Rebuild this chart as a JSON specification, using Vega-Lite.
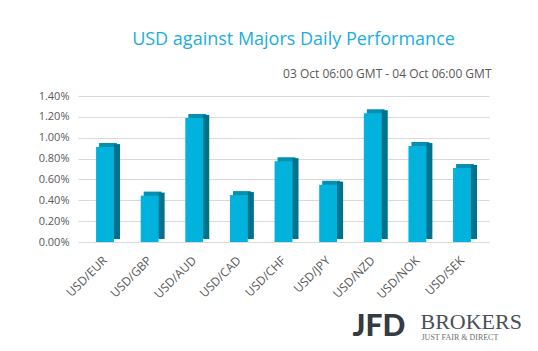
{
  "$schema": "https://vega.github.io/schema/vega-lite/v6.json",
  "width": 411,
  "height": 146,
  "autosize": {"type": "none"},
  "padding": {"left": 78, "top": 96, "right": 49, "bottom": 109},
  "background": "white",
  "title": {
    "text": "USD against Majors Daily Performance",
    "anchor": "middle",
    "dx": 10,
    "offset": 18,
    "fontSize": 18,
    "font": "Open Sans",
    "fontWeight": "normal",
    "color": "#1aaedb"
  },
  "config": {
    "view": {"stroke": null},
    "font": "Open Sans"
  },
  "data": {
    "values": [
      {"pair": "USD/EUR", "change": 0.0091},
      {"pair": "USD/GBP", "change": 0.00445},
      {"pair": "USD/AUD", "change": 0.0119},
      {"pair": "USD/CAD", "change": 0.0045},
      {"pair": "USD/CHF", "change": 0.00775},
      {"pair": "USD/JPY", "change": 0.0055},
      {"pair": "USD/NZD", "change": 0.01235},
      {"pair": "USD/NOK", "change": 0.0092},
      {"pair": "USD/SEK", "change": 0.0071}
    ]
  },
  "layer": [
    {
      "mark": {"type": "bar", "color": "#0690b0", "xOffset": 3, "yOffset": -4},
      "encoding": {
        "x": {"field": "pair", "type": "nominal", "sort": null, "scale": {"paddingInner": 0.6, "paddingOuter": 0.405}, "axis": null},
        "y": {"field": "change", "type": "quantitative", "scale": {"domain": [0, 0.014], "nice": false}, "axis": null}
      }
    },
    {
      "mark": {"type": "bar", "color": "#00728c", "width": 6, "xOffset": 12, "yOffset": -3},
      "encoding": {
        "x": {"field": "pair", "type": "nominal", "sort": null,
          "axis": {"orient": "top", "labels": false, "ticks": false, "domain": false, "grid": false,
            "title": "03 Oct 06:00 GMT - 04 Oct 06:00 GMT", "titleX": 413, "titleY": -23, "titleAlign": "right", "titleBaseline": "middle", "titleAnchor": null,
            "titleFont": "Open Sans", "titleFontSize": 12, "titleFontWeight": "normal", "titleColor": "#595959"}},
        "y": {"field": "change", "type": "quantitative",
          "axis": {"orient": "right", "labels": false, "ticks": false, "domain": false, "grid": false,
            "title": "JUST FAIR & DIRECT", "titleAngle": 0, "titleX": -68, "titleY": 243, "titleAlign": "left", "titleBaseline": "alphabetic", "titleAnchor": null,
            "titleFont": "Liberation Serif", "titleFontSize": 8, "titleFontWeight": "normal", "titleColor": "#6a6f75"}}
      }
    },
    {
      "mark": {"type": "bar", "color": "#00b2dc"},
      "encoding": {
        "x": {"field": "pair", "type": "nominal", "sort": null,
          "axis": {"orient": "bottom", "labelAngle": -45, "labelAlign": "right", "labelBaseline": "middle", "labelPadding": 16,
            "labelFont": "Open Sans", "labelFontSize": 12, "labelColor": "#595959", "ticks": false, "domain": false, "grid": false,
            "title": "JFD", "titleX": 274, "titleY": 93, "titleAlign": "left", "titleBaseline": "alphabetic", "titleAnchor": null,
            "titleFont": "Lato", "titleFontSize": 30, "titleFontWeight": 900, "titleColor": "#353b42"}},
        "y": {"field": "change", "type": "quantitative",
          "axis": {"orient": "left", "format": ".2%", "values": [0, 0.002, 0.004, 0.006, 0.008, 0.01, 0.012, 0.014],
            "labelFont": "Open Sans", "labelFontSize": 11, "labelColor": "#595959", "labelPadding": 9,
            "ticks": false, "domain": false, "grid": true, "gridColor": "#d9d9d9",
            "title": "BROKERS", "titleAngle": 0, "titleX": 342, "titleY": 232, "titleAlign": "left", "titleBaseline": "alphabetic", "titleAnchor": null,
            "titleFont": "Liberation Serif", "titleFontSize": 22, "titleFontWeight": "normal", "titleColor": "#4a5058"}}
      }
    }
  ],
  "resolve": {"axis": {"x": "independent", "y": "independent"}}
}
